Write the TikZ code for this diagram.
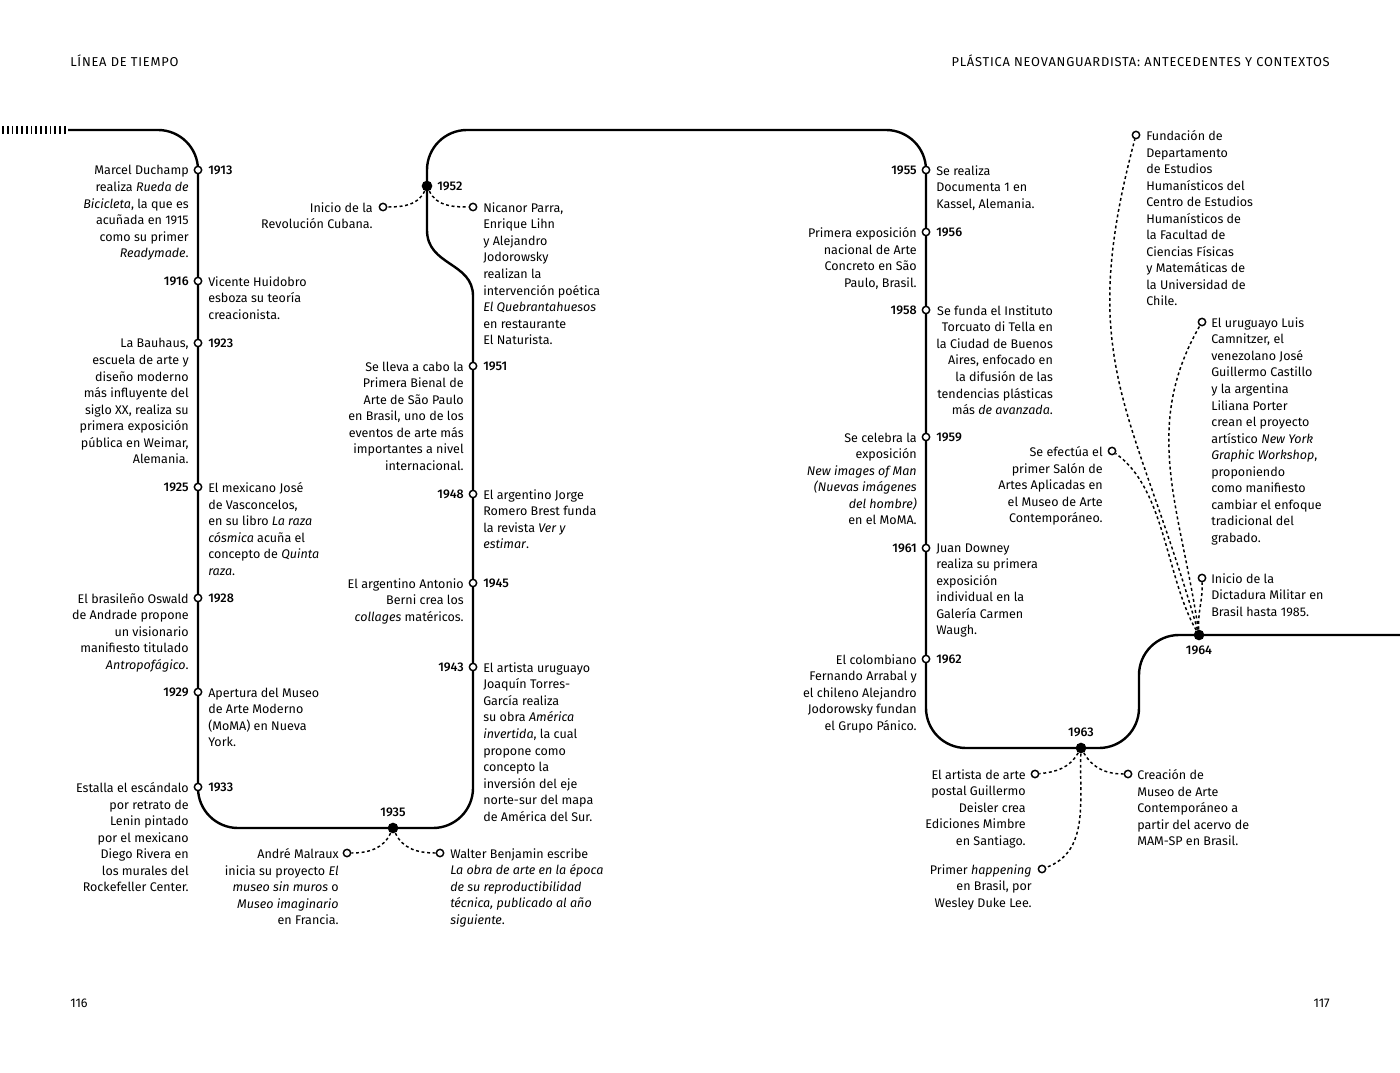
\documentclass[tikz,border=0pt]{standalone}
\usepackage{fontspec}
\setmainfont{Fira Sans}[BoldFont={Fira Sans Medium}]
\newfontfamily\cabecera{Fira Sans}[LetterSpace=6]
\usetikzlibrary{positioning}
\newcommand{\textoevento}{\fontsize{9.4pt}{12.4pt}\selectfont}

\begin{document}
\begin{tikzpicture}[
    x=0.75pt, y=-0.75pt,
    every node/.style={font=\textoevento, inner sep=0pt},
    mainline/.style={line width=1.8pt, rounded corners=30pt},
    hatch/.style={line width=1.2pt},
    hito/.style={circle, draw, fill=white, line width=1.1pt, minimum size=5.5pt},
    nudo/.style={circle, fill=black, minimum size=8pt},
    anio/.style={font=\textoevento\bfseries},
    izq/.style={align=right},
    der/.style={align=left},
    enlace/.style={line width=1.1pt, dash pattern=on 2.2pt off 2pt},
    cabeza/.style={font=\cabecera\fontsize{9.65pt}{11pt}\selectfont}
]
\useasboundingbox (0,0) rectangle (1400,1073);

% Page header and numbers
\node[cabeza, anchor=west] (titulo) at (70,61) {LÍNEA DE TIEMPO};
\node[cabeza, anchor=east] (seccion) at (1330,61) {PLÁSTICA NEOVANGUARDISTA: ANTECEDENTES Y CONTEXTOS};
\node[anchor=west] (pag116) at (70,1003) {116};
\node[anchor=east] (pag117) at (1330,1003) {117};

% Time line
\foreach \x in {3,7.75,...,66} \draw[hatch] (\x,126) -- (\x,134);
\draw[mainline] (68,130) -- (198,130) -- (198,828) -- (473,828) -- (473,296);
\draw[line width=1.8pt] (473,296) .. controls (473,262) and (427,266) .. (427,230);
\draw[mainline] (427,230) -- (427,130) -- (926,130)
    -- (926,748) -- (1139,748) -- (1139,635) -- (1400,635);

% Left column
\node[hito] (h1913) at (198,170) {};
\node[anio, right=7.5pt of h1913.center] (a1913) {1913};
\node[izq, below left=-3.5pt and 6.75pt of h1913.center] (t1913) {Marcel Duchamp\\realiza \textit{Rueda de}\\\textit{Bicicleta}, la que es\\acuñada en 1915\\como su primer\\\textit{Readymade}.};

\node[hito] (h1916) at (198,281) {};
\node[anio, left=6.75pt of h1916.center] (a1916) {1916};
\node[der, below right=-3.5pt and 7.5pt of h1916.center] (t1916) {Vicente Huidobro\\esboza su teoría\\creacionista.};

\node[hito] (h1923) at (198,343) {};
\node[anio, right=7.5pt of h1923.center] (a1923) {1923};
\node[izq, below left=-3.5pt and 6.75pt of h1923.center] (t1923) {La Bauhaus,\\escuela de arte y\\diseño moderno\\más influyente del\\siglo XX, realiza su\\primera exposición\\pública en Weimar,\\Alemania.};

\node[hito] (h1925) at (198,487) {};
\node[anio, left=6.75pt of h1925.center] (a1925) {1925};
\node[der, below right=-3.5pt and 7.5pt of h1925.center] (t1925) {El mexicano José\\de Vasconcelos,\\en su libro \textit{La raza}\\\textit{cósmica} acuña el\\concepto de \textit{Quinta}\\\textit{raza}.};

\node[hito] (h1928) at (198,598) {};
\node[anio, right=7.5pt of h1928.center] (a1928) {1928};
\node[izq, below left=-3.5pt and 6.75pt of h1928.center] (t1928) {El brasileño Oswald\\de Andrade propone\\un visionario\\manifiesto titulado\\\textit{Antropofágico}.};

\node[hito] (h1929) at (198,692) {};
\node[anio, left=6.75pt of h1929.center] (a1929) {1929};
\node[der, below right=-3.5pt and 7.5pt of h1929.center] (t1929) {Apertura del Museo\\de Arte Moderno\\(MoMA) en Nueva\\York.};

\node[hito] (h1933) at (198,787) {};
\node[anio, right=7.5pt of h1933.center] (a1933) {1933};
\node[izq, below left=-3.5pt and 6.75pt of h1933.center] (t1933) {Estalla el escándalo\\por retrato de\\Lenin pintado\\por el mexicano\\Diego Rivera en\\los murales del\\Rockefeller Center.};

% 1935 branch
\node[nudo] (d1935) at (393,828) {};
\node[anio, above=4pt of d1935] (a1935) {1935};
\node[hito] (c1935a) at (347,853) {};
\node[hito] (c1935b) at (440,853) {};
\draw[enlace] (d1935) to[out=245, in=0] (c1935a);
\draw[enlace] (d1935) to[out=-65, in=180] (c1935b);
\node[izq, below left=-3.5pt and 6pt of c1935a.center] (t1935a) {André Malraux\\inicia su proyecto \textit{El}\\\textit{museo sin muros} o\\\textit{Museo imaginario}\\en Francia.};
\node[der, below right=-3.5pt and 7.5pt of c1935b.center] (t1935b) {Walter Benjamin escribe\\\textit{La obra de arte en la época}\\\textit{de su reproductibilidad}\\\textit{técnica, publicado al año}\\\textit{siguiente}.};

% Middle column
\node[nudo] (d1952) at (427,186) {};
\node[anio, right=7.5pt of d1952.center] (a1952) {1952};
\node[hito] (c1952a) at (383,207) {};
\node[hito] (c1952b) at (473,207) {};
\draw[enlace] (d1952) to[out=245, in=0] (c1952a);
\draw[enlace] (d1952) to[out=-65, in=180] (c1952b);
\node[izq, below left=-3.5pt and 7.5pt of c1952a.center] (t1952a) {Inicio de la\\Revolución Cubana.};
\node[der, below right=-3.5pt and 7.5pt of c1952b.center] (t1952b) {Nicanor Parra,\\Enrique Lihn\\y Alejandro\\Jodorowsky\\realizan la\\intervención poética\\\textit{El Quebrantahuesos}\\en restaurante\\El Naturista.};

\node[hito] (h1951) at (473,366) {};
\node[anio, right=7.5pt of h1951.center] (a1951) {1951};
\node[izq, below left=-3.5pt and 6.75pt of h1951.center] (t1951) {Se lleva a cabo la\\Primera Bienal de\\Arte de São Paulo\\en Brasil, uno de los\\eventos de arte más\\importantes a nivel\\internacional.};

\node[hito] (h1948) at (473,494) {};
\node[anio, left=6.75pt of h1948.center] (a1948) {1948};
\node[der, below right=-3.5pt and 7.5pt of h1948.center] (t1948) {El argentino Jorge\\Romero Brest funda\\la revista \textit{Ver y}\\\textit{estimar}.};

\node[hito] (h1945) at (473,583) {};
\node[anio, right=7.5pt of h1945.center] (a1945) {1945};
\node[izq, below left=-3.5pt and 6.75pt of h1945.center] (t1945) {El argentino Antonio\\Berni crea los\\\textit{collages} matéricos.};

\node[hito] (h1943) at (473,667) {};
\node[anio, left=6.75pt of h1943.center] (a1943) {1943};
\node[der, below right=-3.5pt and 7.5pt of h1943.center] (t1943) {El artista uruguayo\\Joaquín Torres-\\García realiza\\su obra \textit{América}\\\textit{invertida}, la cual\\propone como\\concepto la\\inversión del eje\\norte-sur del mapa\\de América del Sur.};

% Right column
\node[hito] (h1955) at (926,170) {};
\node[anio, left=6.75pt of h1955.center] (a1955) {1955};
\node[der, below right=-3.5pt and 7.5pt of h1955.center] (t1955) {Se realiza\\Documenta 1 en\\Kassel, Alemania.};

\node[hito] (h1956) at (926,232) {};
\node[anio, right=7.5pt of h1956.center] (a1956) {1956};
\node[izq, below left=-3.5pt and 6.75pt of h1956.center] (t1956) {Primera exposición\\nacional de Arte\\Concreto en São\\Paulo, Brasil.};

\node[hito] (h1958) at (926,310) {};
\node[anio, left=6.75pt of h1958.center] (a1958) {1958};
\node[izq, below right=-3.5pt and 7.5pt of h1958.center] (t1958) {Se funda el Instituto\\Torcuato di Tella en\\la Ciudad de Buenos\\Aires, enfocado en\\la difusión de las\\tendencias plásticas\\más \textit{de avanzada}.};

\node[hito] (h1959) at (926,437) {};
\node[anio, right=7.5pt of h1959.center] (a1959) {1959};
\node[izq, below left=-3.5pt and 6.75pt of h1959.center] (t1959) {Se celebra la\\exposición\\\textit{New images of Man}\\\textit{(Nuevas imágenes}\\\textit{del hombre)}\\en el MoMA.};

\node[hito] (h1961) at (926,548) {};
\node[anio, left=6.75pt of h1961.center] (a1961) {1961};
\node[der, below right=-3.5pt and 7.5pt of h1961.center] (t1961) {Juan Downey\\realiza su primera\\exposición\\individual en la\\Galería Carmen\\Waugh.};

\node[hito] (h1962) at (926,659) {};
\node[anio, right=7.5pt of h1962.center] (a1962) {1962};
\node[izq, below left=-3.5pt and 6.75pt of h1962.center] (t1962) {El colombiano\\Fernando Arrabal y\\el chileno Alejandro\\Jodorowsky fundan\\el Grupo Pánico.};

% 1963 branch
\node[nudo] (d1963) at (1081,748) {};
\node[anio, above=4pt of d1963] (a1963) {1963};
\node[hito] (c1963a) at (1035,774) {};
\node[hito] (c1963b) at (1128,774) {};
\node[hito] (c1963c) at (1042,869) {};
\draw[enlace] (d1963) to[out=240, in=5] (c1963a);
\draw[enlace] (d1963) to[out=-60, in=180] (c1963b);
\draw[enlace] (d1963) to[out=-92, in=20] (c1963c);
\node[izq, below left=-3.5pt and 6.75pt of c1963a.center] (t1963a) {El artista de arte\\postal Guillermo\\Deisler crea\\Ediciones Mimbre\\en Santiago.};
\node[der, below right=-3.5pt and 6.75pt of c1963b.center] (t1963b) {Creación de\\Museo de Arte\\Contemporáneo a\\partir del acervo de\\MAM-SP en Brasil.};
\node[izq, below left=-3.5pt and 7.5pt of c1963c.center] (t1963c) {Primer \textit{happening}\\en Brasil, por\\Wesley Duke Lee.};

% 1964 branch
\node[nudo] (d1964) at (1199,635) {};
\node[anio, below=4pt of d1964] (a1964) {1964};
\node[hito] (c1964a) at (1136,135) {};
\node[hito] (c1964b) at (1202,322) {};
\node[hito] (c1964c) at (1112,451) {};
\node[hito] (c1964d) at (1202,578) {};
\draw[enlace] (d1964) to[out=106, in=-105, looseness=1.2] (c1964a);
\draw[enlace] (d1964) to[out=98, in=-120] (c1964b);
\draw[enlace] (d1964) to[out=120, in=-35, looseness=0.8] (c1964c);
\draw[enlace] (d1964) to[out=93, in=-88] (c1964d);
\node[der, below right=-3.5pt and 7.5pt of c1964a.center] (t1964a) {Fundación de\\Departamento\\de Estudios\\Humanísticos del\\Centro de Estudios\\Humanísticos de\\la Facultad de\\Ciencias Físicas\\y Matemáticas de\\la Universidad de\\Chile.};
\node[der, below right=-3.5pt and 6.75pt of c1964b.center] (t1964b) {El uruguayo Luis\\Camnitzer, el\\venezolano José\\Guillermo Castillo\\y la argentina\\Liliana Porter\\crean el proyecto\\artístico \textit{New York}\\\textit{Graphic Workshop},\\proponiendo\\como manifiesto\\cambiar el enfoque\\tradicional del\\grabado.};
\node[izq, below left=-3.5pt and 6.75pt of c1964c.center] (t1964c) {Se efectúa el\\primer Salón de\\Artes Aplicadas en\\el Museo de Arte\\Contemporáneo.};
\node[der, below right=-3.5pt and 6.75pt of c1964d.center] (t1964d) {Inicio de la\\Dictadura Militar en\\Brasil hasta 1985.};

\end{tikzpicture}
\end{document}
